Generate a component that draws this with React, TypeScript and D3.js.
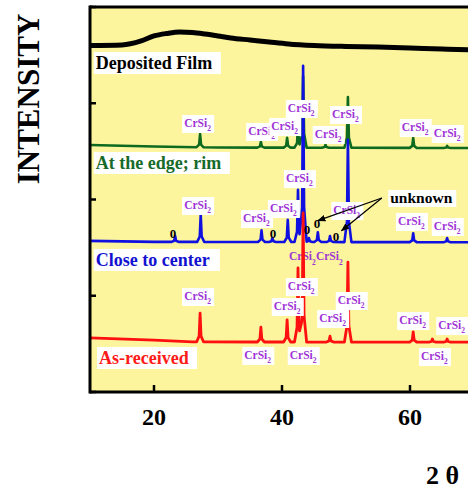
import React from 'react';
import * as d3 from 'd3';

const W = 468;
const H = 489;
const FONT = "'Liberation Serif', 'Times New Roman', serif";

// axis
const xTicks = [20, 40, 60];
const yTicks = [0, 1, 2, 3, 4];

// [2θ, intensity] baselines and [2θ, peak top]
const filmLine = [
  [10, 3.6], [15, 3.605], [18, 3.647], [20, 3.699], [22, 3.725], [24, 3.74], [26, 3.735],
  [28, 3.719], [30, 3.699], [32, 3.678], [35, 3.657], [38, 3.636], [41, 3.616], [45, 3.6],
  [50, 3.59], [55, 3.584], [60, 3.574], [65, 3.564], [70, 3.553],
];

const rimBase = [[10, 2.566], [20, 2.55], [30, 2.54], [70, 2.535]];
const rimPeaks = [
  [27.2, 2.68], [36.7, 2.6], [40.8, 2.64], [42.5, 2.77], [43.3, 3.28],
  [46.8, 2.57], [50.3, 3.065], [60.5, 2.64], [65.8, 2.556],
];

const centerBase = [[10, 1.57], [20, 1.56], [70, 1.556]];
const centerPeaks = [
  [23.3, 1.62], [27.3, 1.84], [36.8, 1.68], [38.5, 1.6], [40.9, 1.79], [42.5, 2.1],
  [43.3, 3.39], [44.2, 1.6], [45.6, 1.66], [47.5, 1.62], [50.3, 2.62], [60.5, 1.65], [65.8, 1.6],
];

const asReceivedBase = [[10, 0.562], [20, 0.54], [26, 0.52], [70, 0.518]];
const asReceivedPeaks = [
  [27.2, 0.82], [36.7, 0.675], [40.8, 0.75], [42.5, 1.29], [43.3, 1.86],
  [47.5, 0.58], [50.3, 1.35], [60.5, 0.625], [63.5, 0.55], [65.8, 0.55],
];

// CrSi2 labels: [2θ, intensity] of the box's top-left corner
const rimLabels = [
  [24.4, 2.878], [34.4, 2.795], [38.0, 2.847], [40.6, 3.034],
  [44.8, 2.764], [47.5, 2.971], [58.4, 2.836], [63.4, 2.774],
];
const centerLabels = [
  [24.4, 2.026], [33.6, 1.891], [37.8, 1.995], [40.3, 2.306],
  [47.7, 1.974], [57.8, 1.86], [63.4, 1.808],
];
const centerLowLabels = [[41.1, 1.496], [45.3, 1.496]];
const asReceivedLabels = [
  [24.4, 1.081], [40.6, 1.184], [38.4, 0.977], [48.4, 1.039], [45.5, 0.852],
  [58.0, 0.831], [64.1, 0.779], [33.8, 0.468], [40.9, 0.468], [61.4, 0.457],
];

// unknown phase markers
const unknownMarks = [[22.97, 1.652], [38.59, 1.652], [43.91, 1.694], [45.47, 1.756], [48.44, 1.621]];
const unknownText = [56.6, 2.099];
const unknownArrows = [
  [[55.6, 2.016], [45.6, 1.78]],
  [[55.6, 2.016], [49.3, 1.675]],
];

const seriesNames = [
  { name: 'Deposited Film', color: '#000000', at: [10.6, 3.532], w: 127 },
  { name: 'At the edge; rim', color: '#166a2a', at: [10.6, 2.494], w: 136 },
  { name: 'Close to center', color: '#1212d0', at: [10.6, 1.486], w: 126 },
  { name: 'As-received', color: '#ff1a1a', at: [11.1, 0.468], w: 100 },
];

const x = d3.scaleLinear().domain([10, 70]).range([90, 474]);
const y = d3.scaleLinear().domain([0, 4]).range([392, 7]);

// profile of a single reflection, as a fraction of its height
const profile = d3.scaleLinear().domain([-0.55, -0.15, 0, 0.15, 0.55]).range([0, 0.2, 1, 0.2, 0]).clamp(true);

function pattern(base: number[][], peaks: number[][]) {
  const baseAt = d3.scaleLinear().domain(base.map(d => d[0])).range(base.map(d => d[1]));
  const knots = new Set<number>(base.map(d => d[0]));
  peaks.forEach(([p]) => profile.domain().forEach(o => knots.add(+(p + o).toFixed(3))));
  const xs = Array.from(knots).filter(v => v >= 10 && v <= 70).sort((a, b) => a - b);
  return xs.map(t => {
    let v = baseAt(t);
    peaks.forEach(([p, top]) => { v += (top - baseAt(p)) * profile(t - p); });
    return [t, v];
  });
}

const line = d3.line<number[]>().x(d => x(d[0])).y(d => y(d[1]));
const smooth = d3.line<number[]>().x(d => x(d[0])).y(d => y(d[1])).curve(d3.curveMonotoneX);

const PURPLE = '#a033d6';

function CrSi({ at }: { at: number[] }) {
  const px = x(at[0]);
  const py = y(at[1]);
  return (
    <g transform={`translate(${px},${py})`}>
      <rect width={32} height={18} fill="#fff" />
      <text x={2} y={12} fontSize={11.5} fontWeight="bold" fill={PURPLE} fontFamily={FONT}>CrSi</text>
      <text x={25} y={16} fontSize={7.5} fontWeight="bold" fill={PURPLE} fontFamily={FONT}>2</text>
    </g>
  );
}

export default function App() {
  const rim = pattern(rimBase, rimPeaks);
  const center = pattern(centerBase, centerPeaks);
  const asRec = pattern(asReceivedBase, asReceivedPeaks);
  const [x0] = x.range();
  const [yb, yt] = y.range();

  return (
    <svg width={W} height={H} style={{ position: 'absolute', left: 0, top: 0, background: '#fff' }}>
      <defs>
        <clipPath id="plot">
          <rect x={x0} y={yt} width={W - x0} height={yb - yt} />
        </clipPath>
        <marker id="arr" viewBox="0 0 10 10" refX={9} refY={5} markerWidth={7} markerHeight={7} orient="auto">
          <path d="M0,1 L10,5 L0,9 Z" fill="#000" />
        </marker>
      </defs>

      <rect x={x0} y={yt} width={W - x0} height={yb - yt} fill="#fdf59e" />

      <g clipPath="url(#plot)">
        <path d={smooth(filmLine) || ''} fill="none" stroke="#000" strokeWidth={5} />
        <path d={line(rim) || ''} fill="none" stroke="#0d6a1e" strokeWidth={2.6} strokeLinejoin="round" />
        <path d={line(center) || ''} fill="none" stroke="#1010e0" strokeWidth={2.6} strokeLinejoin="round" />
        {centerLowLabels.map((d, i) => (
          <g key={i} transform={`translate(${x(d[0])},${y(d[1])})`}>
            <text x={0} y={12} fontSize={11.5} fontWeight="bold" fill={PURPLE} fontFamily={FONT}>CrSi</text>
            <text x={23} y={17} fontSize={7.5} fontWeight="bold" fill={PURPLE} fontFamily={FONT}>2</text>
          </g>
        ))}
        <path d={line(asRec) || ''} fill="none" stroke="#ff1010" strokeWidth={2.8} strokeLinejoin="round" />

        {[...rimLabels, ...centerLabels, ...asReceivedLabels].map((d, i) => <CrSi key={i} at={d} />)}

        {unknownMarks.map((d, i) => (
          <text key={i} x={x(d[0])} y={y(d[1]) + 5} textAnchor="middle" fontSize={13} fontWeight="bold" fontFamily={FONT}>0</text>
        ))}
        {unknownArrows.map((a, i) => (
          <line key={i} x1={x(a[0][0])} y1={y(a[0][1])} x2={x(a[1][0])} y2={y(a[1][1])}
            stroke="#000" strokeWidth={1.2} markerEnd="url(#arr)" />
        ))}
        <rect x={x(unknownText[0])} y={y(unknownText[1])} width={68} height={17} fill="#fff" />
        <text x={x(unknownText[0]) + 2} y={y(unknownText[1]) + 13} fontSize={15.5} fontWeight="bold" fontFamily={FONT}>unknown</text>

        {seriesNames.map(s => (
          <g key={s.name} transform={`translate(${x(s.at[0])},${y(s.at[1])})`}>
            <rect width={s.w} height={22} fill="#fff" />
            <text x={2} y={17} fontSize={18} fontWeight="bold" fill={s.color} fontFamily={FONT}>{s.name}</text>
          </g>
        ))}
      </g>

      {/* frame */}
      <line x1={x0} x2={W} y1={yt} y2={yt} stroke="#000" strokeWidth={3} />
      <line x1={x0} x2={W} y1={yb} y2={yb} stroke="#000" strokeWidth={3} />
      <line x1={x0} x2={x0} y1={yt - 1.5} y2={yb + 1.5} stroke="#000" strokeWidth={3} />

      {yTicks.map(t => (
        <line key={t} x1={x0} x2={x0 + 6} y1={y(t)} y2={y(t)} stroke="#000" strokeWidth={2.5} />
      ))}
      {xTicks.map(t => (
        <g key={t}>
          <line x1={x(t)} x2={x(t)} y1={yb} y2={yb - 7} stroke="#000" strokeWidth={2.5} />
          <text x={x(t)} y={425} textAnchor="middle" fontSize={24} fontWeight="bold" fontFamily={FONT}>{t}</text>
        </g>
      ))}

      <text transform="translate(39,99) rotate(-90)" textAnchor="middle" fontSize={31} fontWeight="bold" fontFamily={FONT}>INTENSITY</text>
      <text x={459} y={484} textAnchor="end" fontSize={26} fontWeight="bold" fontFamily={FONT}>2 θ</text>
    </svg>
  );
}
